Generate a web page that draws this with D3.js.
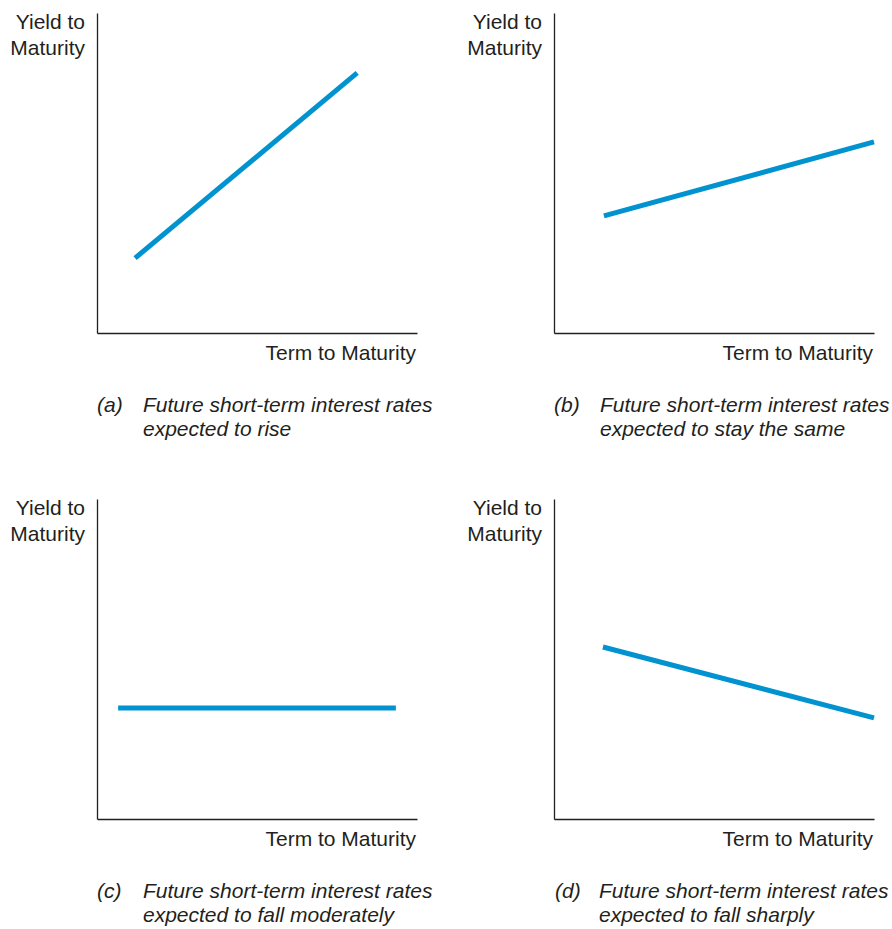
<!DOCTYPE html>
<html><head><meta charset="utf-8">
<script src="https://cdn.jsdelivr.net/npm/d3@7"></script>
<style>
html,body{margin:0;padding:0;background:#fff;}
svg text{font-family:"Liberation Sans",Arial,Helvetica,sans-serif;fill:#231f20;}
</style></head>
<body>
<svg id="chart" width="892" height="929"></svg>
<script>
// Data (term, yield) in arbitrary 0-10 units
const panelIds = ["a", "b", "c", "d"];
const termValues = [[1.19, 8.13], [1.56, 10.0], [0.66, 9.34], [1.53, 10.0]];
const yieldValues = [[2.34, 8.13], [3.66, 5.97], [3.47, 3.47], [5.375, 3.16]];
const captionLine1 = ["Future short-term interest rates", "Future short-term interest rates", "Future short-term interest rates", "Future short-term interest rates"];
const captionLine2 = ["expected to rise", "expected to stay the same", "expected to fall moderately", "expected to fall sharply"];
const yLabel = ["Yield to", "Maturity"];
const xLabel = "Term to Maturity";

const svg = d3.select("#chart");
const W = 320, H = 320;
const origins = [[97, 13], [554, 13], [97, 499], [554, 499]];
const blue = "#0093d0";
const fs = 21;

panelIds.forEach((id, i) => {
  const [ox, oy] = origins[i];
  const g = svg.append("g").attr("transform", `translate(${ox},${oy})`);
  const x = d3.scaleLinear().domain([0, 10]).range([0, W]);
  const y = d3.scaleLinear().domain([0, 10]).range([H, 0]);

  const ax = g.append("g").attr("transform", `translate(0,${H})`)
    .call(d3.axisBottom(x).ticks(0).tickSizeOuter(0));
  const ay = g.append("g").call(d3.axisLeft(y).ticks(0).tickSizeOuter(0));
  [ax, ay].forEach(a => a.select(".domain").attr("stroke", "#231f20").attr("stroke-width", 1.3));

  const pts = termValues[i].map((t, k) => [t, yieldValues[i][k]]);
  g.append("path").datum(pts)
    .attr("fill", "none").attr("stroke", blue).attr("stroke-width", 5)
    .attr("stroke-linecap", "butt")
    .attr("d", d3.line().x(d => x(d[0])).y(d => y(d[1])));

  // y label
  g.append("text").attr("x", -12).attr("y", 16).attr("text-anchor", "end")
    .attr("font-size", fs).text(yLabel[0]);
  g.append("text").attr("x", -12).attr("y", 42).attr("text-anchor", "end")
    .attr("font-size", fs).text(yLabel[1]);
  // x label
  g.append("text").attr("x", W - 1).attr("y", H + 27).attr("text-anchor", "end")
    .attr("font-size", fs).text(xLabel);
  // caption
  g.append("text").attr("x", i === 3 ? 1 : 0).attr("y", H + 79)
    .attr("font-size", fs).attr("font-style", "italic").text(`(${id})`);
  const cx = i === 3 ? 45 : 46;
  g.append("text").attr("x", cx).attr("y", H + 79)
    .attr("font-size", fs).attr("font-style", "italic").text(captionLine1[i]);
  g.append("text").attr("x", cx).attr("y", H + 103)
    .attr("font-size", fs).attr("font-style", "italic").text(captionLine2[i]);
});
</script>
</body></html>
